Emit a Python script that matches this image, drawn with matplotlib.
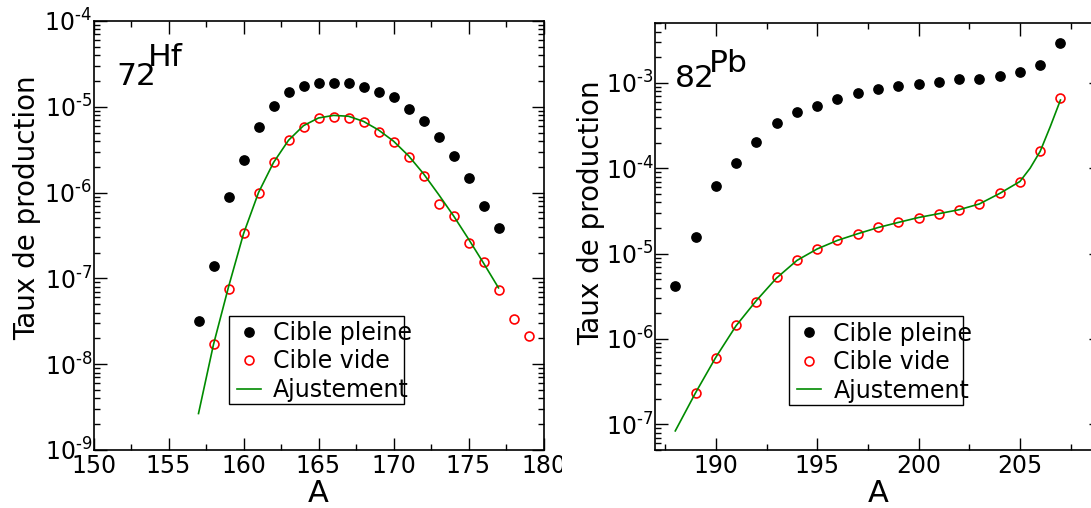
import math
import matplotlib
matplotlib.use('Agg')
import matplotlib.pyplot as plt
from matplotlib.patches import Rectangle
from matplotlib.ticker import MultipleLocator, LogLocator, FuncFormatter, NullFormatter

plt.rcParams['font.family'] = ['DejaVu Sans']
plt.rcParams['mathtext.default'] = 'regular'

# ---------------- data : Hf (Z = 72) ----------------
hf_A_full = list(range(157, 178))
hf_full = [3.18e-8, 1.40e-7, 8.89e-7, 2.40e-6, 5.88e-6, 1.03e-5, 1.50e-5,
           1.77e-5, 1.88e-5, 1.88e-5, 1.87e-5, 1.71e-5, 1.50e-5, 1.29e-5,
           9.46e-6, 6.80e-6, 4.46e-6, 2.70e-6, 1.49e-6, 7.03e-7, 3.89e-7]
hf_A_empty = list(range(158, 180))
hf_empty = [1.70e-8, 7.5e-8, 3.35e-7, 9.9e-7, 2.28e-6, 4.07e-6, 5.88e-6,
            7.48e-6, 7.69e-6, 7.48e-6, 6.70e-6, 5.14e-6, 3.86e-6, 2.62e-6,
            1.56e-6, 7.3e-7, 5.33e-7, 2.56e-7, 1.54e-7, 7.4e-8, 3.33e-8, 2.14e-8]
hf_A_fit = list(range(157, 178))
hf_fit = [2.66e-9, 1.70e-8, 7.94e-8, 3.31e-7, 1.00e-6, 2.24e-6, 4.07e-6,
          6.03e-6, 7.41e-6, 7.94e-6, 7.76e-6, 6.76e-6, 5.37e-6, 3.98e-6,
          2.69e-6, 1.66e-6, 9.55e-7, 5.37e-7, 2.88e-7, 1.51e-7, 7.76e-8]

# ---------------- data : Pb (Z = 82) ----------------
pb_A_full = list(range(188, 208))
pb_full = [4.19e-6, 1.56e-5, 6.27e-5, 1.16e-4, 2.04e-4, 3.38e-4, 4.54e-4,
           5.37e-4, 6.44e-4, 7.69e-4, 8.42e-4, 9.20e-4, 9.70e-4, 1.02e-3,
           1.10e-3, 1.12e-3, 1.20e-3, 1.34e-3, 1.62e-3, 2.90e-3]
pb_A_empty = list(range(189, 208))
pb_empty = [2.34e-7, 6.05e-7, 1.45e-6, 2.70e-6, 5.39e-6, 8.41e-6, 1.12e-5,
            1.43e-5, 1.69e-5, 2.03e-5, 2.32e-5, 2.65e-5, 2.93e-5, 3.23e-5,
            3.83e-5, 5.09e-5, 6.98e-5, 1.59e-4, 6.61e-4]
pb_A_fit = [188, 189, 190, 191, 192, 193, 194, 195, 196, 197, 198, 199, 200,
            201, 202, 203, 204, 205, 205.5, 206, 206.5, 207]
pb_fit = [8.37e-8, 2.34e-7, 6.10e-7, 1.43e-6, 2.82e-6, 5.19e-6, 8.32e-6,
          1.135e-5, 1.43e-5, 1.71e-5, 2.02e-5, 2.32e-5, 2.65e-5, 2.94e-5,
          3.27e-5, 3.82e-5, 5.07e-5, 7.00e-5, 1.00e-4, 1.58e-4, 3.09e-4, 6.31e-4]

legend_labels = ['Cible pleine', 'Cible vide', 'Ajustement']
xlabel = 'A'
ylabel = 'Taux de production'

W, H = 1091, 508
fig = plt.figure(figsize=(W / 100, H / 100), dpi=100)

ax1 = fig.add_axes([93.5 / W, 58 / H, 450 / W, 429 / H], zorder=0)
ax2 = fig.add_axes([655 / W, 58 / H, 446 / W, 426.7 / H], zorder=2)

# white mask emulating the crop of the left picture
mask = Rectangle((562 / W, 0), 1 - 562 / W, 1, transform=fig.transFigure,
                 facecolor='white', edgecolor='none', zorder=1)
fig.patches.append(mask)

green = '#008b00'


def exp_fmt(v, pos):
    if v <= 0:
        return ''
    e = round(math.log10(v))
    s = str(e).replace('-', '\u2010')
    return r'$\mathregular{10^{%s}}$' % s


def style(ax, xlim, ylim, ylab_coords):
    ax.set_yscale('log')
    ax.set_xlim(*xlim)
    ax.set_ylim(*ylim)
    ax.xaxis.set_major_locator(MultipleLocator(5))
    ax.xaxis.set_minor_locator(MultipleLocator(2.5))
    ax.yaxis.set_major_locator(LogLocator(base=10))
    ax.yaxis.set_minor_locator(LogLocator(base=10, subs=range(2, 10), numticks=20))
    ax.yaxis.set_major_formatter(FuncFormatter(exp_fmt))
    ax.yaxis.set_minor_formatter(NullFormatter())
    ax.tick_params(which='both', direction='in', top=True, right=True,
                   color='black', width=1.0)
    ax.tick_params(which='major', length=9)
    ax.tick_params(which='minor', length=4)
    ax.tick_params(axis='x', labelsize=17, pad=3)
    ax.tick_params(axis='y', labelsize=17, pad=1)
    for s in ax.spines.values():
        s.set_linewidth(1.2)
    ax.set_xlabel(xlabel, fontsize=22)
    ax.xaxis.set_label_coords(0.5, -0.068)
    ax.set_ylabel(ylabel, fontsize=20)
    ax.yaxis.set_label_coords(*ylab_coords)


def draw(ax, A_full, full, A_empty, empty, A_fit, fit):
    h1, = ax.plot(A_full, full, 'o', color='black', ms=6.7, ls='none')
    h2, = ax.plot(A_empty, empty, 'o', mfc='none', mec='red', mew=1.2, ms=6.4, ls='none')
    h3, = ax.plot(A_fit, fit, '-', color=green, lw=1.2)
    ax.legend([h1, h2, h3], legend_labels, frameon=False, loc='upper left',
              bbox_to_anchor=(0.318, 0.301), borderpad=0, borderaxespad=0,
              handlelength=1.03, handletextpad=0.52, labelspacing=0.19,
              fontsize=17, numpoints=1)
    ax.add_patch(Rectangle((0.301, 0.1065), 0.3896, 0.2066, transform=ax.transAxes,
                           fill=False, edgecolor='black', lw=1.0, zorder=5))


draw(ax1, hf_A_full, hf_full, hf_A_empty, hf_empty, hf_A_fit, hf_fit)
style(ax1, (150, 180), (1e-9, 1e-4), (-0.1167, 0.564))
ax1.text(0.050, 0.851, '72', transform=ax1.transAxes, fontsize=22.6, va='baseline', ha='left')
ax1.text(0.1204, 0.894, 'Hf', transform=ax1.transAxes, fontsize=22.6, va='baseline', ha='left')

draw(ax2, pb_A_full, pb_full, pb_A_empty, pb_empty, pb_A_fit, pb_fit)
style(ax2, (187, 209), (5e-8, 5e-3), (-0.111, 0.5566))
ax2.text(0.0442, 0.8496, '82', transform=ax2.transAxes, fontsize=22.6, va='baseline', ha='left')
ax2.text(0.1204, 0.8866, 'Pb', transform=ax2.transAxes, fontsize=22.6, va='baseline', ha='left')

fig.savefig('out.png', dpi=100)
